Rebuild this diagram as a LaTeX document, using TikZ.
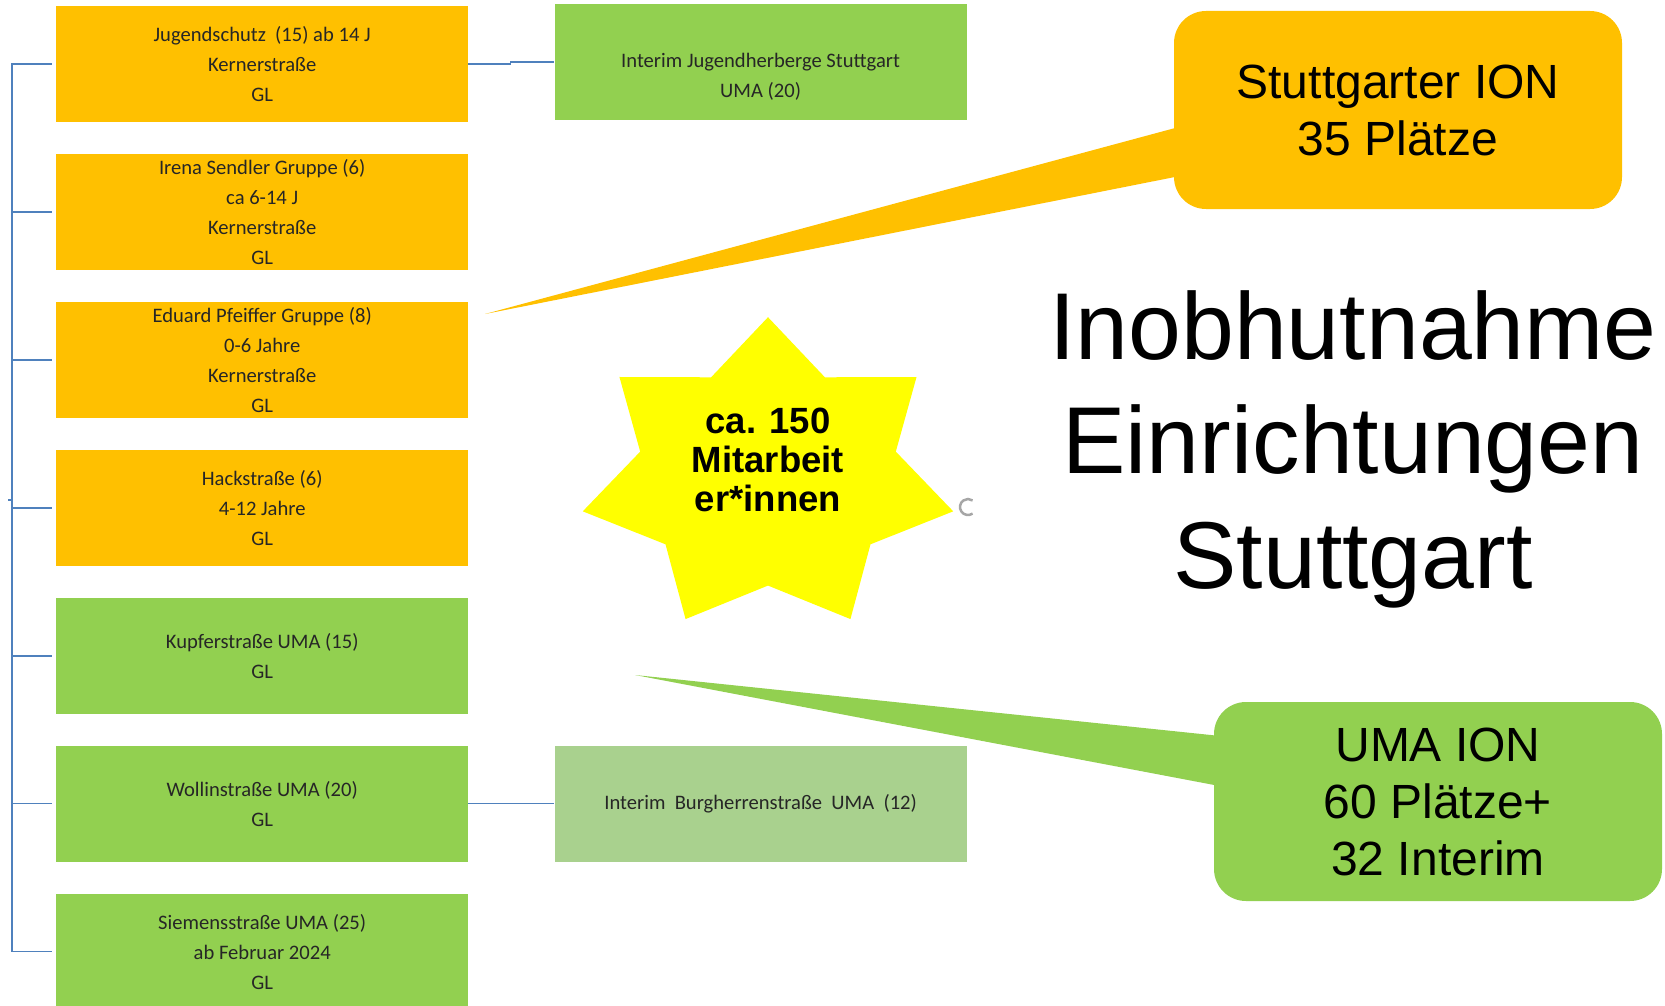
\documentclass[tikz,border=0pt]{standalone}
\usepackage{fontspec}
\setmainfont{Carlito}
\newfontfamily\arialfont{Liberation Sans}
\usepackage{tikz}
\usetikzlibrary{positioning}
\definecolor{ionorange}{RGB}{255,192,0}
\definecolor{iongreen}{RGB}{146,208,80}
\definecolor{interimgreen}{RGB}{169,209,142}
\definecolor{busblue}{RGB}{79,129,189}
\definecolor{staryellow}{RGB}{255,255,0}

\begin{document}
\begin{tikzpicture}[x=1pt,y=-1pt]
      \tikzstyle{grouptext}=[align=center, font=\fontsize{20.6}{30}\selectfont, text=black!85]
      \tikzstyle{group}=[grouptext, minimum width=412pt, minimum height=116pt, inner sep=0pt]
      \tikzstyle{orangegroup}=[group, fill=ionorange]
      \tikzstyle{greengroup}=[group, fill=iongreen]
      \tikzstyle{interimgroup}=[group, fill=interimgreen]
      \tikzstyle{busline}=[draw=busblue, line width=1.5pt]
      \tikzstyle{callout}=[rounded corners=32pt, minimum width=448pt, minimum height=198pt,
        inner sep=0pt, align=center, font=\arialfont\fontsize{48}{57}\selectfont]
      \useasboundingbox (0,0) rectangle (1665,1006);

      \node[orangegroup, anchor=north west] (jugendschutz) at (56,6)
        {Jugendschutz\ \ (15) ab 14 J\\Kernerstraße\\GL};
      \node[orangegroup, below=31.5pt of jugendschutz] (sendler)
        {Irena Sendler Gruppe (6)\\ca 6-14 J\\Kernerstraße\\GL};
      \node[orangegroup, below=31.5pt of sendler] (pfeiffer)
        {Eduard Pfeiffer Gruppe (8)\\0-6 Jahre\\Kernerstraße\\GL};
      \node[orangegroup, below=31.5pt of pfeiffer] (hack)
        {Hackstraße (6)\\4-12 Jahre\\GL};
      \node[greengroup, below=31.5pt of hack] (kupfer)
        {Kupferstraße UMA (15)\\GL};
      \node[greengroup, below=31.5pt of kupfer] (wollin)
        {Wollinstraße UMA (20)\\GL};
      \node[greengroup, below=31.5pt of wollin] (siemens)
        {Siemensstraße UMA (25)\\ab Februar 2024\\GL};

      \node[greengroup, right=86pt of jugendschutz, yshift=2pt,
        label={[grouptext, yshift=-15pt]center:{Interim Jugendherberge Stuttgart\\UMA (20)}}] (herberge) {};
      \node[interimgroup, right=86pt of wollin] (burgherren)
        {Interim\ \ Burgherrenstraße\ \ UMA\ \ (12)};

      \coordinate (root) at (12,500);
      \draw[busline] (root) -- ++(-4,0);
      \foreach \g in {jugendschutz,sendler,pfeiffer,hack,kupfer,wollin,siemens}
        \draw[busline] (root) |- ([xshift=-4pt]\g.west);
      \draw[busline] (jugendschutz.east) -- ++(42,0) |- (herberge.west);
      \draw[busline] (wollin.east) -- (burgherren.west);

      \node[callout, fill=ionorange] (ionstgt) at (1398,110) {Stuttgarter ION\\35 Plätze};
      \coordinate (stgttip) at (485,314);
      \fill[ionorange] (stgttip) -- (1190,124) -- (1190,174) -- cycle;

      \node[callout, fill=iongreen, minimum height=199pt] (ionuma) at (1438,801.5)
        {UMA ION\\60 Plätze+\\32 Interim};
      \coordinate (umatip) at (635,675);
      \fill[iongreen] (umatip) -- (1230,737) -- (1230,788) -- cycle;

      \fill[staryellow] ([shift={(768,476)}]-90:190 and 158.8)
        \foreach \i [evaluate=\i as \r using {mod(\i,2)==0 ? 1 : 0.69}] in {1,...,13}
          { -- ([shift={(768,476)}]{-90+\i*360/14}:{190*\r} and {158.8*\r}) } -- cycle;
      \node[align=center, inner sep=0pt, font=\arialfont\bfseries\fontsize{36.5}{39}\selectfont]
        (staff) at (768,460) {ca. 150\\Mitarbeit\\er*innen};
      \draw[black!35, line width=2.5pt] (968,507) ++(55:8) arc[start angle=55, end angle=305, radius=8];

      \node[align=center, inner sep=0pt, font=\arialfont\fontsize{95}{114.5}\selectfont]
        (title) at (1353,449) {Inobhutnahme\\Einrichtungen\\Stuttgart};
    \end{tikzpicture}
\end{document}
